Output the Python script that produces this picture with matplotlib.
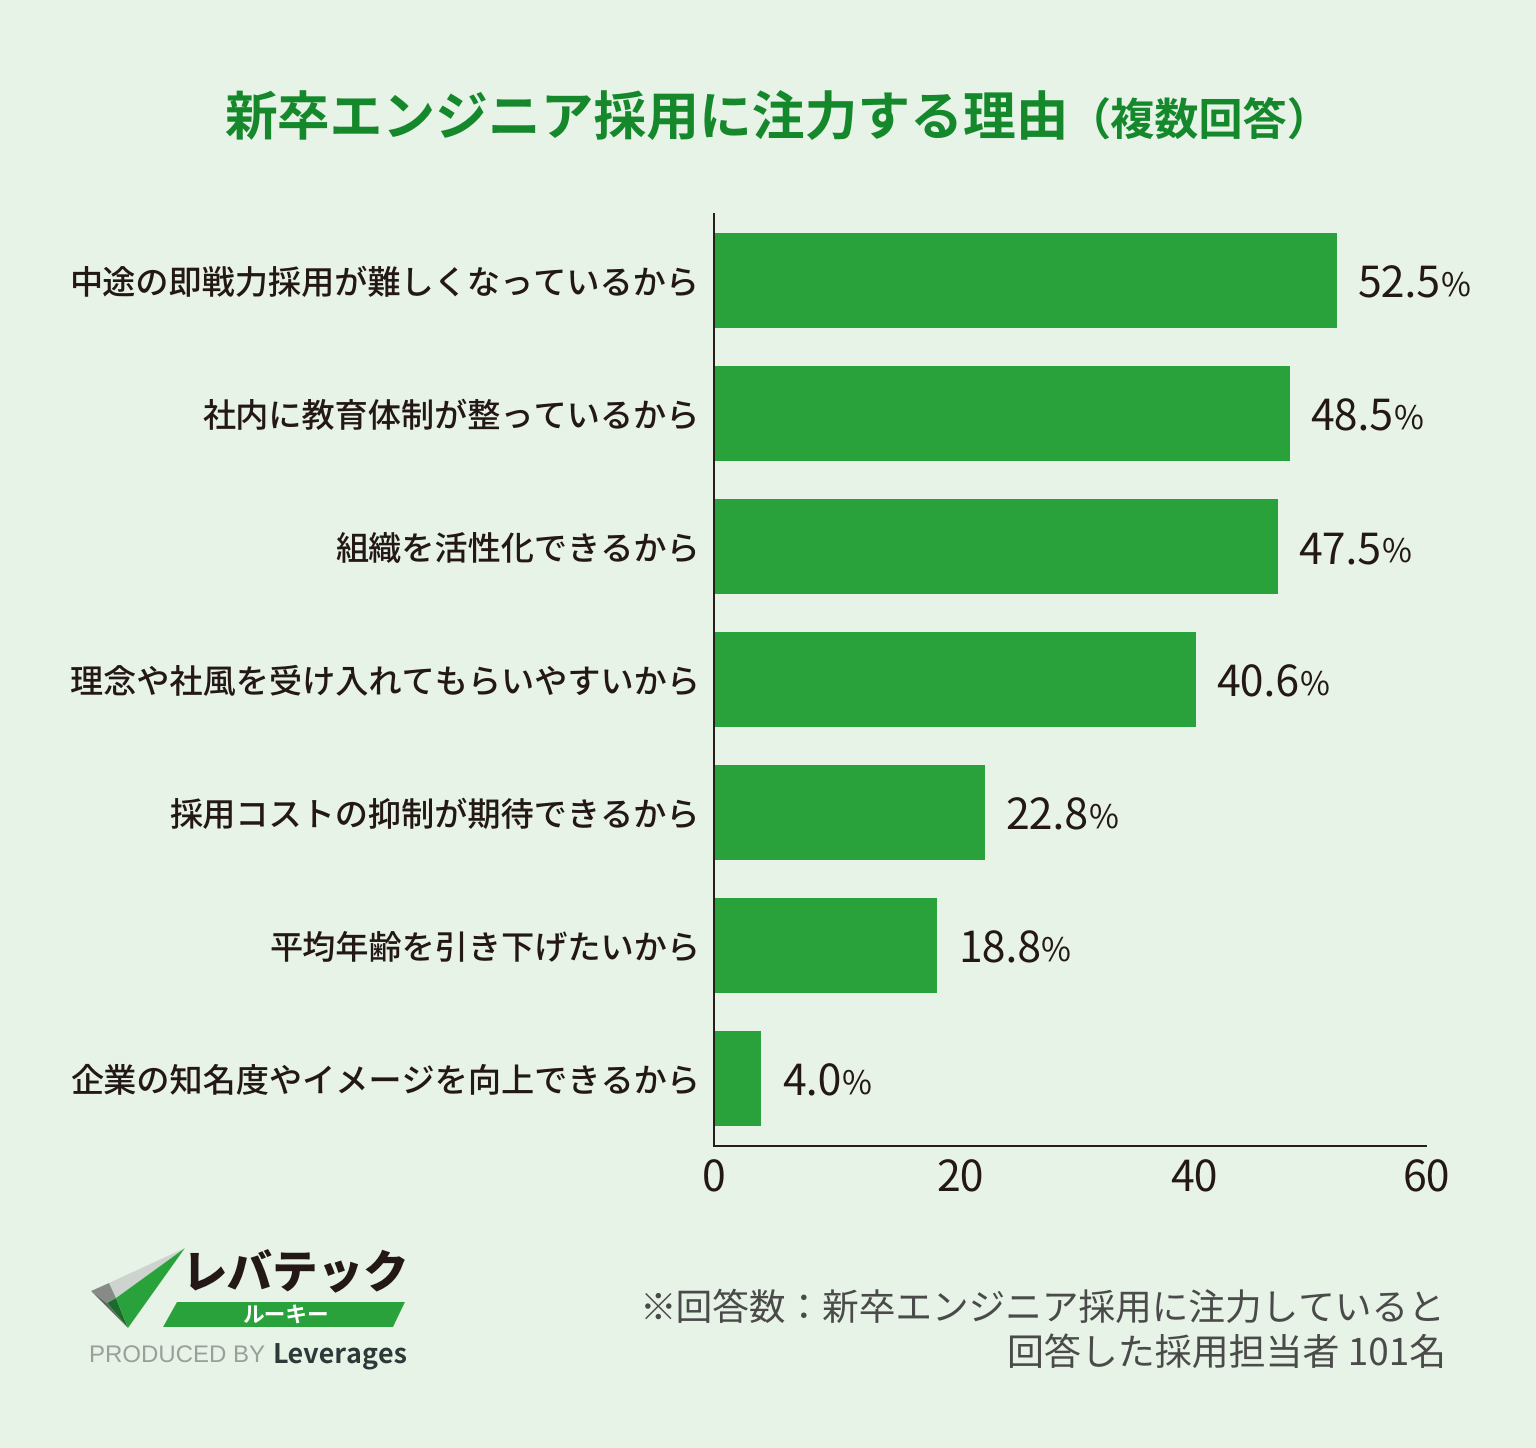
#!/usr/bin/env python3
"""Bar chart of reasons for focusing on new-graduate engineer hiring."""

import matplotlib
matplotlib.use("Agg")
import matplotlib.pyplot as plt
from matplotlib.patches import Polygon
from matplotlib.transforms import ScaledTranslation

plt.rcParams["font.family"] = ["Noto Sans CJK JP", "DejaVu Sans"]
plt.rcParams["text.hinting"] = "no_hinting"
plt.rcParams["text.hinting_factor"] = 1

REASONS = [
    "中途の即戦力採用が難しくなっているから",
    "社内に教育体制が整っているから",
    "組織を活性化できるから",
    "理念や社風を受け入れてもらいやすいから",
    "採用コストの抑制が期待できるから",
    "平均年齢を引き下げたいから",
    "企業の知名度やイメージを向上できるから",
]
VALUES = [52.5, 48.5, 47.5, 40.6, 22.8, 18.8, 4.0]
TICKS = [0, 20, 40, 60]

BG = "#e8f3e8"
GREEN = "#2aa23c"
TITLE_GREEN = "#15882c"
DARK = "#231815"
W, H = 1536, 1448


def fx(px):
    return px / W


def fy(py):
    return 1 - py / H


def main():
    fig = plt.figure(figsize=(W / 200, H / 200), dpi=200, facecolor=BG)
    ax = fig.add_axes([fx(714), fy(1146), (1426 - 714) / W, (1146 - 214) / H])
    ax.set_facecolor("none")

    y = list(range(len(REASONS)))
    ax.barh(y, VALUES, height=0.718, color=GREEN)
    ax.set_xlim(0, 60)
    ax.set_ylim(6.507, -0.5)
    ax.set_yticks(y)
    ax.set_yticklabels(REASONS, fontsize=11.95, color=DARK, fontweight="medium")
    ax.set_xticks(TICKS)
    ax.set_xticklabels([str(t) for t in TICKS], fontsize=15.4, color=DARK)
    ax.tick_params(length=0, pad=5)
    ax.tick_params(axis="x", pad=4)
    # the middle tick labels sit a little right of their positions in the original
    for label, nudge in zip(ax.get_xticklabels(), [0, 9, 5, 0]):
        label.set_transform(label.get_transform()
                            + ScaledTranslation(nudge / 200, 0, fig.dpi_scale_trans))
    for side in ("top", "right"):
        ax.spines[side].set_visible(False)
    for side in ("left", "bottom"):
        ax.spines[side].set_color(DARK)
        ax.spines[side].set_linewidth(0.7)

    for yy, v in zip(y, VALUES):
        t = ax.annotate(f"{v:.1f}", (v, yy), xytext=(7.5, -1.6), textcoords="offset points",
                        va="center", ha="left", fontsize=15.4, color=DARK)
        ax.annotate("%", (1, 0.5), xycoords=t, xytext=(0, -0.5), textcoords="offset points",
                    va="center", ha="left", fontsize=11.7, color=DARK)

    fig.text(fx(224), fy(120), "新卒エンジニア採用に注力する理由", fontsize=19.0,
             fontweight="bold", color=TITLE_GREEN, va="center", ha="left")
    fig.text(fx(1199), fy(122), "（複数回答）", fontsize=15.9, fontweight="bold",
             color=TITLE_GREEN, va="center", ha="center")

    fig.text(fx(1446), fy(1309), "※回答数：新卒エンジニア採用に注力していると",
             fontsize=13.2, color="#4a4a4a", ha="right", va="center")
    fig.text(fx(1446), fy(1354), "回答した採用担当者 101名",
             fontsize=13.3, color="#4a4a4a", ha="right", va="center")

    # logo
    def poly(points, color):
        fig.add_artist(Polygon([(fx(a), fy(b)) for a, b in points], closed=True,
                               facecolor=color, edgecolor="none",
                               transform=fig.transFigure))

    poly([(109, 1283), (185, 1248), (116, 1298)], "#cfd3cf")
    poly([(185, 1248), (116, 1298), (128, 1328)], GREEN)
    poly([(91, 1291), (109, 1283), (116, 1298), (107, 1303)], "#878a87")
    poly([(91, 1291), (107, 1303), (128, 1328)], "#5f645f")
    poly([(107, 1303), (116, 1298), (128, 1328)], "#1c6b2c")
    poly([(177, 1302), (405, 1302), (393, 1327), (163, 1327)], GREEN)
    fig.text(fx(285), fy(1315), "ルーキー", fontsize=7.8, fontweight="bold", color="white",
             ha="center", va="center")
    fig.text(fx(296), fy(1275), "レバテック", fontsize=16.4, fontweight="black", color=DARK,
             ha="center", va="center")
    fig.text(fx(89), fy(1357), "PRODUCED BY", fontsize=8.55, color="#9a9f9a",
             family=["Liberation Sans"], ha="left", va="center")
    fig.text(fx(273), fy(1356), "Leverages", fontsize=9.7, fontweight="bold", color="#2b3a38",
             ha="left", va="center")

    fig.savefig("out.png", dpi=200, facecolor=BG)
    plt.close(fig)


if __name__ == "__main__":
    main()
